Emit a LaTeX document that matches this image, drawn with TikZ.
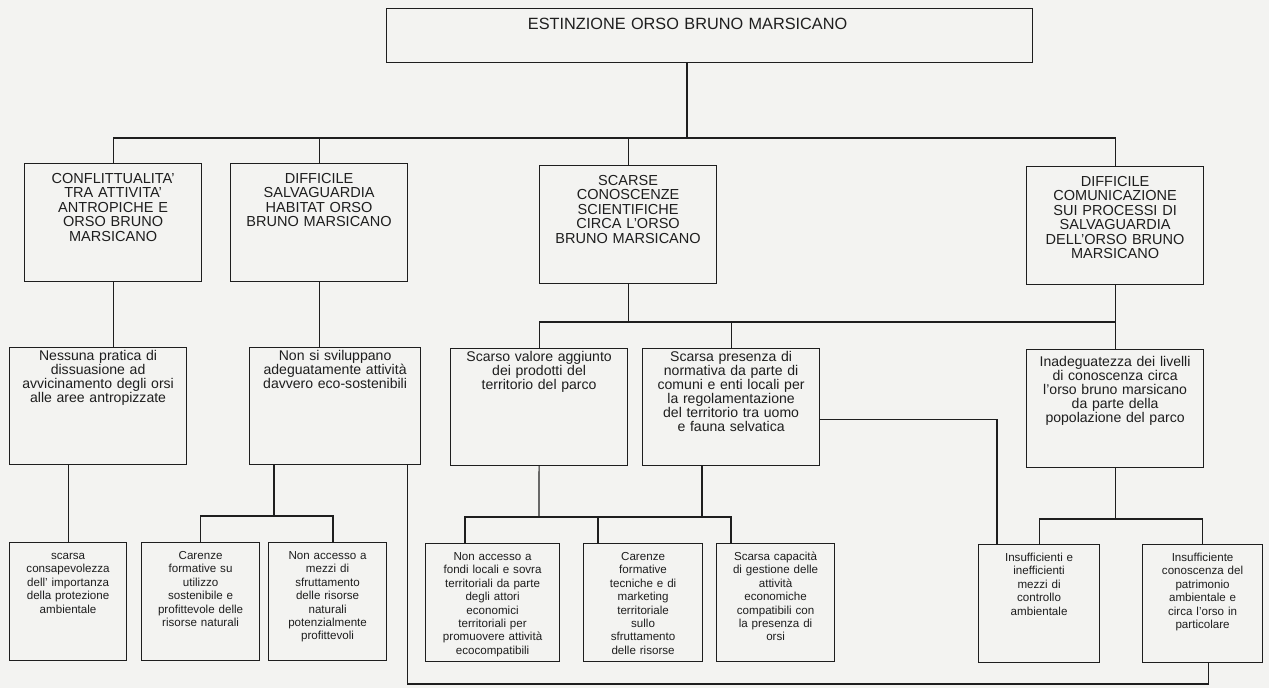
\documentclass[tikz,border=0pt]{standalone}
\usepackage{fontspec}
\setmainfont{Liberation Sans}
\newlength\pxu
\setlength\pxu{0.03cm}
\definecolor{paper}{RGB}{243,243,241}
\definecolor{ink}{RGB}{30,30,30}
\tikzset{
  box/.style={draw=ink, text=ink, line width=1pt, anchor=north west,
    inner xsep=0pt, inner ysep=0pt, align=center},
  topbox/.style={box, font=\fontsize{13.9}{15}\selectfont,
    text width=646\pxu, text height=21\pxu, text depth=33\pxu},
  capbox/.style={box, font=\fontsize{12.4}{12.25}\selectfont,
    text width=177\pxu, text height=20\pxu, text depth=98\pxu},
  midbox/.style={box, font=\fontsize{12}{11.9}\selectfont,
    text width=177\pxu, text height=13\pxu, text depth=104\pxu},
  lowbox/.style={box, font=\fontsize{9.9}{11.4}\selectfont,
    text width=118\pxu, text height=17\pxu, text depth=101\pxu},
  wire/.style={draw=ink, line width=1pt}
}
\begin{document}
\begin{tikzpicture}[x=\pxu, y=-\pxu]
  \fill[paper] (0,0) rectangle (1269,688);
  \useasboundingbox (0,0) rectangle (1269,688);

  % radice
  \node[topbox] (top) at (386,8) {\hspace*{-44\pxu}ESTINZIONE ORSO BRUNO MARSICANO};

  % primo livello
  \node[capbox] (b1) at (24,163) {CONFLITTUALITA'\\TRA ATTIVITA'\\ANTROPICHE E\\ORSO BRUNO\\MARSICANO};
  \node[capbox] (b2) at (230,163) {DIFFICILE\\SALVAGUARDIA\\HABITAT ORSO\\BRUNO MARSICANO};
  \node[capbox] (b3) at (539,165) {SCARSE\\CONOSCENZE\\SCIENTIFICHE\\CIRCA L'ORSO\\BRUNO MARSICANO};
  \node[capbox] (b4) at (1026,166) {DIFFICILE\\COMUNICAZIONE\\SUI PROCESSI DI\\SALVAGUARDIA\\DELL'ORSO BRUNO\\MARSICANO};

  % secondo livello
  \node[midbox] (c1) at (9,347) {Nessuna pratica di\\dissuasione ad\\avvicinamento degli orsi\\alle aree antropizzate};
  \node[midbox, text width=171\pxu] (c2) at (249,347) {Non si sviluppano\\adeguatamente attività\\davvero eco-sostenibili};
  \node[midbox] (c3) at (450,348) {Scarso valore aggiunto\\dei prodotti del\\territorio del parco};
  \node[midbox] (c4) at (642,348) {Scarsa presenza di\\normativa da parte di\\comuni e enti locali per\\la regolamentazione\\del territorio tra uomo\\e fauna selvatica};
  \node[midbox, text height=17\pxu, text depth=101\pxu] (c5) at (1026,349) {Inadeguatezza dei livelli\\di conoscenza circa\\l'orso bruno marsicano\\da parte della\\popolazione del parco};

  % terzo livello
  \node[lowbox, text width=117\pxu] (e1) at (9,542) {scarsa\\consapevolezza\\dell' importanza\\della protezione\\ambientale};
  \node[lowbox] (e2) at (141,542) {Carenze\\formative su\\utilizzo\\sostenibile e\\profittevole delle\\risorse naturali};
  \node[lowbox] (e3) at (268,542) {Non accesso a\\mezzi di\\sfruttamento\\delle risorse\\naturali\\potenzialmente\\profittevoli};
  \node[lowbox, text width=134\pxu] (e4) at (425,543) {Non accesso a\\fondi locali e sovra\\territoriali da parte\\degli attori\\economici\\territoriali per\\promuovere attività\\ecocompatibili};
  \node[lowbox, text width=119\pxu] (e5) at (583,543) {Carenze\\formative\\tecniche e di\\marketing\\territoriale\\sullo\\sfruttamento\\delle risorse};
  \node[lowbox] (e6) at (716,543) {Scarsa capacità\\di gestione delle\\attività\\economiche\\compatibili con\\la presenza di\\orsi};
  \node[lowbox, text width=121\pxu] (e7) at (978,544) {Insufficienti e\\inefficienti\\mezzi di\\controllo\\ambientale};
  \node[lowbox, text width=120\pxu] (e8) at (1142,544) {Insufficiente\\conoscenza del\\patrimonio\\ambientale e\\circa l'orso in\\particolare};

  % punti di snodo
  \coordinate (j1) at (687,138);
  \coordinate (j2) at (628,322);
  \coordinate (j3) at (274,516);
  \coordinate (j4) at (539,517);
  \coordinate (j4b) at (702,517);
  \coordinate (j5) at (1114,519);
  \coordinate (low) at (0,684);
  \path ([xshift=65\pxu]e3.north west) coordinate (e3in);
  \path ([xshift=40\pxu]e4.north west) coordinate (e4in);
  \path ([xshift=15\pxu]e5.north west) coordinate (e5in);
  \path ([xshift=15\pxu]e6.north west) coordinate (e6in);
  \path ([xshift=19\pxu]e7.north west) coordinate (e7in);
  \path ([yshift=-12\pxu]c4.east) coordinate (c4out);
  \path ([xshift=-14\pxu]c2.south east) coordinate (c2out);
  \path ([xshift=6\pxu]e8.south) coordinate (e8out);

  % collegamenti
  \draw[wire] (top.south -| j1) -- (j1);
  \draw[wire] (b1.north) |- (j1) -| (b4.north);
  \draw[wire] (b2.north) -- (b2.north |- j1);
  \draw[wire] (b3.north) -- (b3.north |- j1);

  \draw[wire] (b1.south) -- (b1.south |- c1.north);
  \draw[wire] (b2.south) -- (b2.south |- c2.north);
  \draw[wire] (b4.south) -- (b4.south |- c5.north);
  \draw[wire] (b3.south) -- (b3.south |- j2);
  \draw[wire] (c3.north) |- (j2) -| (c5.north);
  \draw[wire] (c4.north) -- (c4.north |- j2);

  \draw[wire] (c1.south -| e1.north) -- (e1.north);
  \draw[wire] (c2.south -| j3) -- (j3);
  \draw[wire] (e2.north) |- (j3) -| (e3in);
  \draw[wire] (c3.south) -- (j4);
  \draw[wire] (c4.south -| j4b) -- (j4b);
  \draw[wire] (e4in) |- (j4) -| (e6in);
  \draw[wire] (e5in) -- (e5in |- j4);
  \draw[wire] (c4out) -| (e7in);
  \draw[wire] (c5.south) -- (c5.south |- j5);
  \draw[wire] (e7.north) |- (j5) -| (e8.north);
  \draw[wire] (c2out) -- (c2out |- low) -| (e8out);
\end{tikzpicture}
\end{document}
